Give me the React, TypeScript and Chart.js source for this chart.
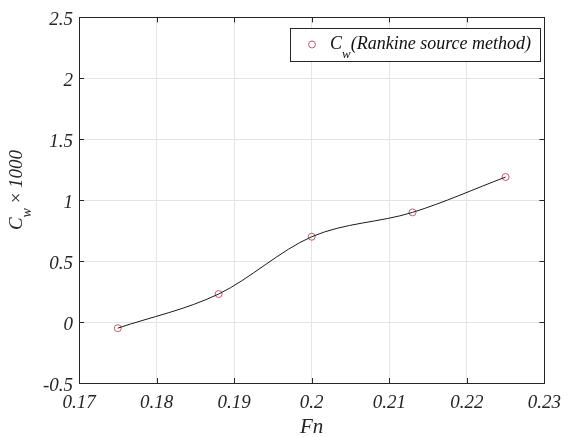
import React, { useEffect, useRef } from 'react';
import { Chart, registerables } from 'chart.js';

Chart.register(...registerables);

const fnValues = [0.175, 0.188, 0.2, 0.213, 0.225];
const cwValues = [-0.05, 0.23, 0.7, 0.9, 1.19];
const xTicks = [0.17, 0.18, 0.19, 0.2, 0.21, 0.22, 0.23];
const xTickLabels = ['0.17', '0.18', '0.19', '0.2', '0.21', '0.22', '0.23'];
const yTicks = [-0.5, 0, 0.5, 1, 1.5, 2, 2.5];
const yTickLabels = ['-0.5', '0', '0.5', '1', '1.5', '2', '2.5'];
const legendMain = 'C';
const legendSub = 'w';
const legendRest = '(Rankine source method)';
const xTitle = 'Fn';
const yTitleMain = 'C';
const yTitleSub = 'w';
const yTitleTimes = ' \u00d7 ';
const yTitleRest = '1000';

const SERIF = '"Liberation Serif", "Times New Roman", serif';
const FRAME = '#262626';
const MARKER = '#d6536b';

const decorPlugin = {
  id: 'decor',
  afterDraw(chart: any) {
    const { ctx, chartArea } = chart;
    const { left, right, top, bottom } = chartArea;
    const xs = chart.scales.x;
    const ys = chart.scales.y;
    ctx.save();
    // frame
    ctx.strokeStyle = FRAME;
    ctx.lineWidth = 1;
    ctx.strokeRect(Math.round(left) + 0.5, Math.round(top) + 0.5, Math.round(right - left), Math.round(bottom - top));
    // inward ticks
    const tl = 5;
    ctx.beginPath();
    xTicks.forEach((v) => {
      const px = Math.round(xs.getPixelForValue(v)) + 0.5;
      ctx.moveTo(px, bottom);
      ctx.lineTo(px, bottom - tl);
      ctx.moveTo(px, top);
      ctx.lineTo(px, top + tl);
    });
    yTicks.forEach((v) => {
      const py = Math.round(ys.getPixelForValue(v)) + 0.5;
      ctx.moveTo(left, py);
      ctx.lineTo(left + tl, py);
      ctx.moveTo(right, py);
      ctx.lineTo(right - tl, py);
    });
    ctx.stroke();

    // x title
    ctx.fillStyle = '#262626';
    ctx.font = `italic 21px ${SERIF}`;
    ctx.textAlign = 'center';
    ctx.textBaseline = 'alphabetic';
    ctx.fillText(xTitle, (left + right) / 2, 433);

    // y title (rotated)
    ctx.save();
    ctx.translate(22, 190);
    ctx.rotate(-Math.PI / 2);
    ctx.textAlign = 'left';
    const fMain = `italic 19px ${SERIF}`;
    const fSub = `italic 14px ${SERIF}`;
    const fNorm = `19px ${SERIF}`;
    ctx.font = fMain;
    const wC = ctx.measureText(yTitleMain).width;
    ctx.font = fSub;
    const wW = ctx.measureText(yTitleSub).width;
    ctx.font = fNorm;
    const wT = ctx.measureText(yTitleTimes).width;
    ctx.font = fMain;
    const wR = ctx.measureText(yTitleRest).width;
    const total = wC + wW + wT + wR;
    let x = -total / 2;
    ctx.font = fMain;
    ctx.fillText(yTitleMain, x, 0);
    x += wC;
    ctx.font = fSub;
    ctx.fillText(yTitleSub, x, 9);
    x += wW;
    ctx.font = fNorm;
    ctx.fillText(yTitleTimes, x, 0);
    x += wT;
    ctx.font = fMain;
    ctx.fillText(yTitleRest, x, 0);
    ctx.restore();

    // legend
    const lx = 290, ly = 28, lw = 250, lh = 33;
    ctx.fillStyle = '#ffffff';
    ctx.fillRect(lx, ly, lw, lh);
    ctx.strokeStyle = FRAME;
    ctx.strokeRect(lx + 0.5, ly + 0.5, lw, lh);
    ctx.beginPath();
    ctx.strokeStyle = MARKER;
    ctx.arc(312, 44.5, 3.5, 0, Math.PI * 2);
    ctx.stroke();
    ctx.fillStyle = '#111111';
    ctx.textAlign = 'left';
    let tx = 330;
    ctx.font = `italic 18px ${SERIF}`;
    ctx.fillText(legendMain, tx, 49);
    tx += ctx.measureText(legendMain).width;
    ctx.font = `italic 13px ${SERIF}`;
    ctx.fillText(legendSub, tx, 58);
    tx += ctx.measureText(legendSub).width;
    ctx.font = `italic 18px ${SERIF}`;
    ctx.fillText(legendRest, tx, 49);
    ctx.restore();
  },
};

export default function App() {
  const ref = useRef<HTMLCanvasElement | null>(null);
  useEffect(() => {
    if (!ref.current) return;
    const lineData = fnValues.map((v, i) => ({ x: v, y: cwValues[i] }));
    const chart = new Chart(ref.current, {
      type: 'line',
      data: {
        datasets: [
          {
            label: 'curve',
            data: lineData,
            borderColor: '#1a1a1a',
            borderWidth: 1,
            pointRadius: 0,
            cubicInterpolationMode: 'monotone',
            fill: false,
          },
          {
            label: 'Cw',
            data: lineData,
            showLine: false,
            pointRadius: 3.5,
            pointBorderColor: MARKER,
            pointBackgroundColor: 'rgba(0,0,0,0)',
            pointBorderWidth: 1,
          },
        ],
      },
      options: {
        animation: false,
        responsive: false,
        maintainAspectRatio: false,
        layout: { padding: { top: 17, right: 21, left: 0, bottom: 0 } },
        plugins: {
          legend: { display: false },
          tooltip: { enabled: false },
        },
        scales: {
          x: {
            type: 'linear',
            min: 0.17,
            max: 0.23,
            afterBuildTicks: (s: any) => {
              s.ticks = xTicks.map((v) => ({ value: v }));
            },
            afterFit: (s: any) => {
              s.height = 54;
            },
            ticks: {
              callback: (_v: any, i: number) => xTickLabels[i],
              font: { family: SERIF, size: 19, style: 'italic' },
              color: '#262626',
              padding: 9,
              maxRotation: 0,
              autoSkip: false,
            },
            grid: { color: '#e4e4e4', drawTicks: false },
            border: { display: false },
          },
          y: {
            type: 'linear',
            min: -0.5,
            max: 2.5,
            afterBuildTicks: (s: any) => {
              s.ticks = yTicks.map((v) => ({ value: v }));
            },
            afterFit: (s: any) => {
              s.width = 79;
            },
            ticks: {
              callback: (_v: any, i: number) => yTickLabels[i],
              font: { family: SERIF, size: 19, style: 'italic' },
              color: '#262626',
              padding: 6,
              labelOffset: 3,
              autoSkip: false,
            },
            grid: { color: '#e4e4e4', drawTicks: false },
            border: { display: false },
          },
        },
      },
      plugins: [decorPlugin],
    } as any);
    return () => chart.destroy();
  }, []);
  return (
    <div style={{ position: 'fixed', left: 0, top: 0, width: 570, height: 437, background: '#fff' }}>
      <canvas ref={ref} width={570} height={437} style={{ width: 570, height: 437 }} />
    </div>
  );
}
